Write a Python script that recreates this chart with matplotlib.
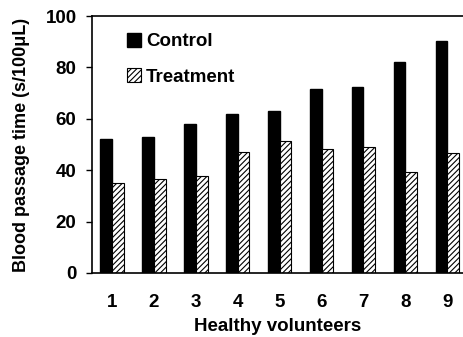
import matplotlib
matplotlib.use("Agg")
import matplotlib.pyplot as plt
import numpy as np

plt.rcParams['font.family'] = ['Liberation Sans', 'DejaVu Sans']
plt.rcParams['font.weight'] = 'bold'
plt.rcParams['hatch.linewidth'] = 0.8

volunteers = ['1', '2', '3', '4', '5', '6', '7', '8', '9']
control = [52.1, 52.8, 57.9, 62.0, 63.0, 71.5, 72.5, 82.2, 90.3]
treatment = [34.9, 36.6, 37.6, 47.2, 51.2, 48.2, 48.9, 39.3, 46.7]

fig = plt.figure(figsize=(4.64, 3.37), dpi=100)
ax = fig.add_axes([0.198, 0.19, 0.802, 0.7625])

x = np.arange(1, len(volunteers) + 1)
w = 0.28
ax.bar(x - w/2, control, w, color='black', edgecolor='black', label='Control')
ax.bar(x + w/2, treatment, w, color='white', edgecolor='black', hatch='//////',
       linewidth=0.8, label='Treatment')

ax.set_xlim(0.52, 9.4)
ax.set_ylim(0, 100)
ax.set_yticks([0, 20, 40, 60, 80, 100])
ax.set_xticks(x)
ax.set_xticklabels(volunteers)
ax.tick_params(axis='x', length=0, pad=15, labelsize=13.5)
ax.tick_params(axis='y', length=4, width=1, direction='out', labelsize=13.5, pad=7)
ax.spines['right'].set_visible(False)
for s in ['left', 'top', 'bottom']:
    ax.spines[s].set_linewidth(1.2)

ax.set_xlabel('Healthy volunteers', fontsize=13.5, fontweight='bold', labelpad=5)
ax.set_ylabel('Blood passage time (s/100\u03bcL)', fontsize=13, fontweight='bold', labelpad=11)

leg = ax.legend(loc='upper left', frameon=False, fontsize=13.5, handlelength=0.75,
                handleheight=0.75, handletextpad=0.25, labelspacing=0.95,
                borderaxespad=0.3, bbox_to_anchor=(0.06, 0.985))

fig.savefig('out.png', dpi=100)
